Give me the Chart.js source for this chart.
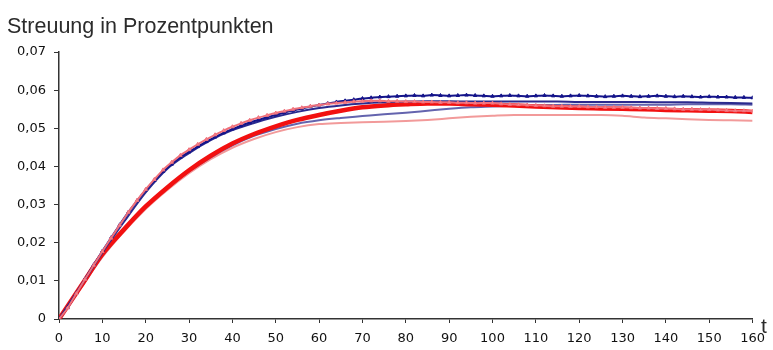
<!DOCTYPE html>
<html>
<head>
<meta charset="utf-8">
<script src="https://cdn.jsdelivr.net/npm/chart.js@4.4.1/dist/chart.umd.min.js"></script>
<style>
  html, body { margin: 0; padding: 0; background: #fff; }
  #wrap { width: 773px; height: 350px; position: relative; }
</style>
</head>
<body>
<div id="wrap"><canvas id="mycanvas" width="773" height="350"></canvas></div>
<script>
// Streuung over time t, simulated series
var titleText = "Streuung in Prozentpunkten";
var axisLabelX = "t";

var yTicks = [0, 0.01, 0.02, 0.03, 0.04, 0.05, 0.06, 0.07];
var xTicks = [0, 10, 20, 30, 40, 50, 60, 70, 80, 90, 100, 110, 120, 130, 140, 150, 160];

// marker series, every 2 steps
var tFine = [];
for (var k = 0; k <= 160; k += 2) tFine.push(k);
// plain line series, every 5 steps
var tCoarse = [];
for (var k = 0; k <= 160; k += 5) tCoarse.push(k);

var navyVals = [
  0, 0.0030, 0.0068, 0.0105, 0.0142, 0.0178, 0.0213, 0.0247, 0.0280, 0.0310,
  0.0338, 0.0363, 0.0387, 0.0406, 0.0424, 0.0438, 0.0452, 0.0465, 0.0477, 0.0488,
  0.0498, 0.0507, 0.0515, 0.0522, 0.0529, 0.0535, 0.0541, 0.0547, 0.0552, 0.0557,
  0.0561, 0.0565, 0.0569, 0.0572, 0.0575, 0.0578, 0.0580, 0.0582, 0.0583, 0.0584,
  0.0585, 0.0586, 0.0585, 0.0587, 0.0586, 0.0585, 0.0586, 0.0587, 0.0586, 0.0585,
  0.0584, 0.0585, 0.0586, 0.0585, 0.0584, 0.0585, 0.0586, 0.0585, 0.0584, 0.0585,
  0.0586, 0.0585, 0.0584, 0.0583, 0.0584, 0.0585, 0.0584, 0.0583, 0.0584, 0.0585,
  0.0584, 0.0583, 0.0584, 0.0583, 0.0582, 0.0583, 0.0582, 0.0582, 0.0581, 0.0581,
  0.0580
];

var pinkVals = [
  0, 0.0029, 0.0067, 0.0104, 0.0141, 0.0177, 0.0212, 0.0246, 0.0280, 0.0311,
  0.0340, 0.0366, 0.0391, 0.0411, 0.0429, 0.0444, 0.0458, 0.0471, 0.0483, 0.0494,
  0.0504, 0.0513, 0.0521, 0.0528, 0.0534, 0.0540, 0.0545, 0.0550, 0.0554, 0.0558,
  0.0561, 0.0564, 0.0566, 0.0568, 0.0570, 0.0571, 0.0572, 0.0572, 0.0571, 0.0571,
  0.0570, 0.0570, 0.0569, 0.0569, 0.0568, 0.0568, 0.0567, 0.0567, 0.0566, 0.0566,
  0.0566, 0.0564, 0.0563, 0.0562, 0.0561, 0.0560, 0.0559, 0.0558, 0.0558, 0.0557,
  0.0557, 0.0556, 0.0556, 0.0555, 0.0555, 0.0555, 0.0554, 0.0553, 0.0553, 0.0552,
  0.0552, 0.0551, 0.0550, 0.0550, 0.0549, 0.0549, 0.0548, 0.0547, 0.0546, 0.0546,
  0.0545
];

var navy2Vals = [
  0, 0.0086, 0.0174, 0.0255, 0.0332, 0.0394, 0.0435, 0.0469, 0.0495, 0.0514,
  0.0530, 0.0543, 0.0553, 0.0560, 0.0565, 0.0568, 0.0570, 0.0571, 0.0571, 0.0570,
  0.0570, 0.0570, 0.0570, 0.0570, 0.0569, 0.0569, 0.0569, 0.0569, 0.0568, 0.0568,
  0.0567, 0.0566, 0.0565
];

var redVals = [
  0, 0.0085, 0.0170, 0.0235, 0.0295, 0.0345, 0.0390, 0.0428, 0.0460, 0.0485,
  0.0505, 0.0522, 0.0535, 0.0546, 0.0555, 0.0560, 0.0563, 0.0565, 0.0565, 0.0563,
  0.0562, 0.0560, 0.0557, 0.0555, 0.0553, 0.0552, 0.0551, 0.0550, 0.0548, 0.0547,
  0.0546, 0.0545, 0.0543
];

var blueVals = [
  0, 0.0082, 0.0165, 0.0232, 0.0292, 0.0342, 0.0387, 0.0424, 0.0455, 0.0480,
  0.0498, 0.0512, 0.0521, 0.0527, 0.0532, 0.0537, 0.0541, 0.0546, 0.0551, 0.0555,
  0.0557, 0.0559, 0.0560, 0.0561, 0.0562, 0.0562, 0.0562, 0.0562, 0.0562, 0.0563,
  0.0563, 0.0563, 0.0562
];

var salmonVals = [
  0, 0.0080, 0.0162, 0.0229, 0.0288, 0.0338, 0.0382, 0.0419, 0.0449, 0.0472,
  0.0490, 0.0503, 0.0511, 0.0514, 0.0516, 0.0517, 0.0519, 0.0522, 0.0526, 0.0530,
  0.0533, 0.0535, 0.0535, 0.0535, 0.0535, 0.0535, 0.0533, 0.0528, 0.0526, 0.0524,
  0.0522, 0.0521, 0.0520
];

function pairs(ts, vals) {
  var out = [];
  for (var i = 0; i < vals.length; i++) out.push({x: ts[i], y: vals[i]});
  return out;
}

function fmt(v) {
  if (v === 0) return "0";
  return v.toFixed(2).replace(".", ",");
}

var textPlugin = {
  id: "texts",
  afterDraw: function(chart) {
    var ctx = chart.ctx;
    ctx.save();
    ctx.fillStyle = "#2b2b2b";
    ctx.textBaseline = "alphabetic";
    ctx.textAlign = "left";
    ctx.font = '21.5px "Liberation Sans", Arial, sans-serif';
    ctx.fillText(titleText, 7, 33);
    ctx.font = '21px "Liberation Sans", Arial, sans-serif';
    ctx.fillText(axisLabelX, 761, 333);
    ctx.restore();
  }
};

var chartdata = {
  datasets: [
    {
      label: "pink",
      data: pairs(tFine, pinkVals),
      borderColor: "#f0707a",
      backgroundColor: "#f58a92",
      borderWidth: 2,
      pointStyle: "triangle",
      pointRadius: 2,
      pointBorderWidth: 1,
      tension: 0.2
    },
    {
      label: "navy",
      data: pairs(tFine, navyVals),
      borderColor: "#14148a",
      backgroundColor: "#14148a",
      borderWidth: 2,
      pointStyle: "triangle",
      pointRadius: 2,
      pointBorderWidth: 1,
      tension: 0.2
    },
    {
      label: "navy2",
      data: pairs(tCoarse, navy2Vals),
      borderColor: "#2a2a8e",
      borderWidth: 2,
      pointRadius: 0,
      cubicInterpolationMode: "monotone"
    },
    {
      label: "red",
      data: pairs(tCoarse, redVals),
      borderColor: "#f21010",
      borderWidth: 4.5,
      pointRadius: 0,
      cubicInterpolationMode: "monotone"
    },
    {
      label: "blue",
      data: pairs(tCoarse, blueVals),
      borderColor: "#6464ae",
      borderWidth: 2,
      pointRadius: 0,
      cubicInterpolationMode: "monotone"
    },
    {
      label: "salmon",
      data: pairs(tCoarse, salmonVals),
      borderColor: "#f29a9a",
      borderWidth: 2,
      pointRadius: 0,
      cubicInterpolationMode: "monotone"
    }
  ]
};

var ctx = document.getElementById("mycanvas");

var lineGraph = new Chart(ctx, {
  type: "line",
  data: chartdata,
  plugins: [textPlugin],
  options: {
    responsive: false,
    animation: false,
    layout: { padding: { top: 52, right: 18, left: 0, bottom: 0 } },
    plugins: {
      legend: { display: false },
      tooltip: { enabled: false }
    },
    scales: {
      x: {
        type: "linear",
        min: 0,
        max: 160,
        afterBuildTicks: function(scale) {
          scale.ticks = xTicks.map(function(v) { return {value: v}; });
        },
        afterFit: function(scale) { scale.height = 31; },
        grid: { display: true, drawOnChartArea: false, drawTicks: true, tickLength: 4, color: "#333" },
        border: { display: true, color: "#333", width: 1.5 },
        ticks: {
          padding: 8,
          maxRotation: 0,
          autoSkip: false,
          color: "#111",
          font: { family: "DejaVu Sans", size: 13 }
        }
      },
      y: {
        min: 0,
        max: 0.07,
        afterBuildTicks: function(scale) {
          scale.ticks = yTicks.map(function(v) { return {value: v}; });
        },
        afterFit: function(scale) { scale.width = 59; },
        grid: { display: true, drawOnChartArea: false, drawTicks: true, tickLength: 5, color: "#333" },
        border: { display: true, color: "#333", width: 1.5 },
        ticks: {
          padding: 8,
          color: "#111",
          font: { family: "DejaVu Sans", size: 13 },
          callback: function(v) { return fmt(v); }
        }
      }
    }
  }
});
</script>
</body>
</html>
